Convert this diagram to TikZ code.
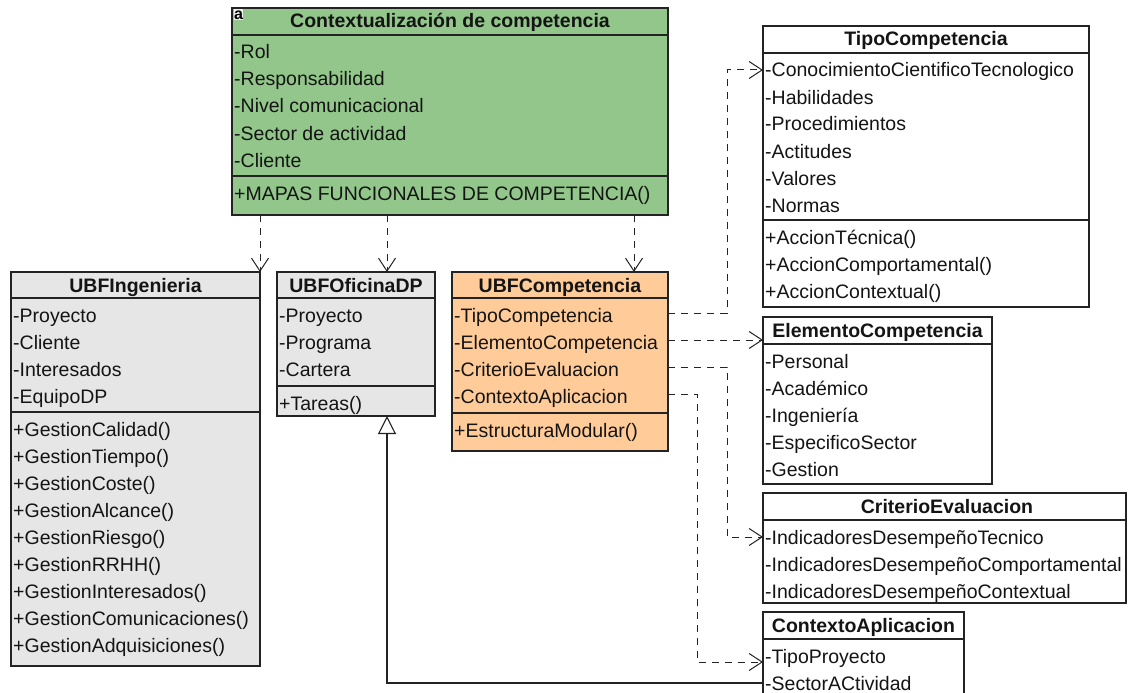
\documentclass[tikz,border=0pt]{standalone}
\usepackage{fontspec}
\setmainfont{Liberation Sans}
\usetikzlibrary{arrows.meta}
\definecolor{lc}{RGB}{35,35,35}
\definecolor{tc}{RGB}{20,20,20}
\definecolor{grn}{RGB}{146,198,138}
\definecolor{org}{RGB}{255,204,153}
\definecolor{gry}{RGB}{230,230,230}
\tikzset{
  cls/.style={draw=lc, line width=1.1pt, anchor=north west, inner sep=0pt, outer sep=0pt},
  divl/.style={draw=lc, line width=1.1pt},
  ttl/.style={font=\fontsize{19.5}{22}\selectfont\bfseries, anchor=base, inner sep=0pt, text=tc},
  row/.style={font=\fontsize{19.5}{22}\selectfont, anchor=base west, inner sep=0pt, text=tc},
  dep/.style={draw=lc, line width=1pt, dash pattern=on 7pt off 6pt, -{Straight Barb[length=13pt,width=17pt,line width=1pt]}},
  gen/.style={draw=lc, line width=1.1pt, -{Triangle[open,length=18pt,width=18pt,fill=white,line width=1.1pt]}},
}
\newcommand\umlrows[5]{%
  \foreach \rowtxt [count=\i from 0] in {#5} {\node[row] (#1-#2\i) at ({#3+2},{#4+24+27*\i}) {\rowtxt};}}
\begin{document}
\begin{tikzpicture}[x=1pt,y=-1pt]
\useasboundingbox (0,0) rectangle (1128,693);
\clip (0,0) rectangle (1128,693);
\fill[white] (0,0) rectangle (1128,693);

% Contextualizacion
\node[cls, fill=grn, minimum width=436pt, minimum height=207pt] (ctx) at (232,8) {};
\draw[divl] (232,35) -- (668,35);
\draw[divl] (232,176) -- (668,176);
\node[ttl] (ctx-t) at (450,28) {Contextualización de competencia};
\fill[white!88!gray] (234,9.5) rectangle (243,20);
\node[font=\fontsize{16}{16}\selectfont\bfseries, anchor=base, inner sep=0pt, text=black] (ctx-ic) at (238.5,19.5) {a};
\umlrows{ctx}{a}{232}{35}{-Rol,-Responsabilidad,-Nivel comunicacional,-Sector de actividad,-Cliente}
\umlrows{ctx}{m}{232}{176}{+MAPAS FUNCIONALES DE COMPETENCIA()}

% UBFIngenieria
\node[cls, fill=gry, minimum width=249pt, minimum height=394pt] (ing) at (11,272) {};
\draw[divl] (11,298) -- (260,298);
\draw[divl] (11,412) -- (260,412);
\node[ttl] (ing-t) at (135.5,292) {UBFIngenieria};
\umlrows{ing}{a}{11}{298}{-Proyecto,-Cliente,-Interesados,-EquipoDP}
\umlrows{ing}{m}{11}{412}{+GestionCalidad(),+GestionTiempo(),+GestionCoste(),+GestionAlcance(),+GestionRiesgo(),+GestionRRHH(),+GestionInteresados(),+GestionComunicaciones(),+GestionAdquisiciones()}

% UBFOficinaDP
\node[cls, fill=gry, minimum width=158pt, minimum height=144pt] (ofi) at (277,272) {};
\draw[divl] (277,298) -- (435,298);
\draw[divl] (277,386) -- (435,386);
\node[ttl] (ofi-t) at (356,292) {UBFOficinaDP};
\umlrows{ofi}{a}{277}{298}{-Proyecto,-Programa,-Cartera}
\umlrows{ofi}{m}{277}{386}{+Tareas()}

% UBFCompetencia
\node[cls, fill=org, minimum width=216pt, minimum height=179pt] (cmp) at (452,272) {};
\draw[divl] (452,298) -- (668,298);
\draw[divl] (452,413) -- (668,413);
\node[ttl] (cmp-t) at (560,292) {UBFCompetencia};
\umlrows{cmp}{a}{452}{298}{-TipoCompetencia,-ElementoCompetencia,-CriterioEvaluacion,-ContextoAplicacion}
\umlrows{cmp}{m}{452}{413}{+EstructuraModular()}

% TipoCompetencia
\node[cls, fill=white, minimum width=326pt, minimum height=281pt] (tip) at (763,26) {};
\draw[divl] (763,53) -- (1089,53);
\draw[divl] (763,220) -- (1089,220);
\node[ttl] (tip-t) at (926,46) {TipoCompetencia};
\umlrows{tip}{a}{763}{53}{-ConocimientoCientificoTecnologico,-Habilidades,-Procedimientos,-Actitudes,-Valores,-Normas}
\umlrows{tip}{m}{763}{220}{+AccionTécnica(),+AccionComportamental(),+AccionContextual()}

% ElementoCompetencia
\node[cls, fill=white, minimum width=229pt, minimum height=167pt] (ele) at (763,317) {};
\draw[divl] (763,344) -- (992,344);
\node[ttl] (ele-t) at (877.5,337) {ElementoCompetencia};
\umlrows{ele}{a}{763}{344}{-Personal,-Académico,-Ingeniería,-EspecificoSector,-Gestion}

% CriterioEvaluacion
\node[cls, fill=white, minimum width=363pt, minimum height=110pt] (cri) at (763,493) {};
\draw[divl] (763,520) -- (1126,520);
\node[ttl] (cri-t) at (947,513) {CriterioEvaluacion};
\umlrows{cri}{a}{763}{520}{-IndicadoresDesempeñoTecnico,-IndicadoresDesempeñoComportamental,-IndicadoresDesempeñoContextual}

% ContextoAplicacion
\node[cls, fill=white, minimum width=201pt, minimum height=100pt] (cxa) at (763,612) {};
\draw[divl] (763,639) -- (964,639);
\node[ttl] (cxa-t) at (863.5,632) {ContextoAplicacion};
\umlrows{cxa}{a}{763}{639}{-TipoProyecto,-SectorACtividad}

% dependencies from Contextualizacion
\coordinate (d1) at (ing.north east);
\coordinate (d2) at ([xshift=110pt]ofi.north west);
\coordinate (d3) at ([xshift=182pt]cmp.north west);
\draw[dep] (d1 |- ctx.south) -- (d1);
\draw[dep] (d2 |- ctx.south) -- (d2);
\draw[dep] (d3 |- ctx.south) -- (d3);

% dependencies from UBFCompetencia
\coordinate (c0) at ([yshift=9pt]cmp-a0.base);
\coordinate (c1) at ([yshift=9pt]cmp-a1.base);
\coordinate (c2) at ([yshift=9pt]cmp-a2.base);
\coordinate (c3) at ([yshift=9pt]cmp-a3.base);
\coordinate (t0) at ([yshift=7pt]tip-a0.base);
\coordinate (r0) at ([yshift=7pt]cri-a0.base);
\coordinate (x0) at ([yshift=1pt]cxa-a0.base);
\coordinate (v1) at (727,0);
\coordinate (v3) at (697,0);
\draw[dep] (cmp.east |- c0) -- (v1 |- c0) -- (v1 |- t0) -- (tip.west |- t0);
\draw[dep] (cmp.east |- c1) -- (ele.west |- c1);
\draw[dep] (cmp.east |- c2) -- (v1 |- c2) -- (v1 |- r0) -- (cri.west |- r0);
\draw[dep] (cmp.east |- c3) -- (v3 |- c3) -- (v3 |- x0) -- (cxa.west |- x0);

% generalization
\coordinate (g1) at (0,683);
\draw[gen] (cxa.west |- g1) -- (d2 |- g1) -- (d2 |- ofi.south);
\end{tikzpicture}
\end{document}
